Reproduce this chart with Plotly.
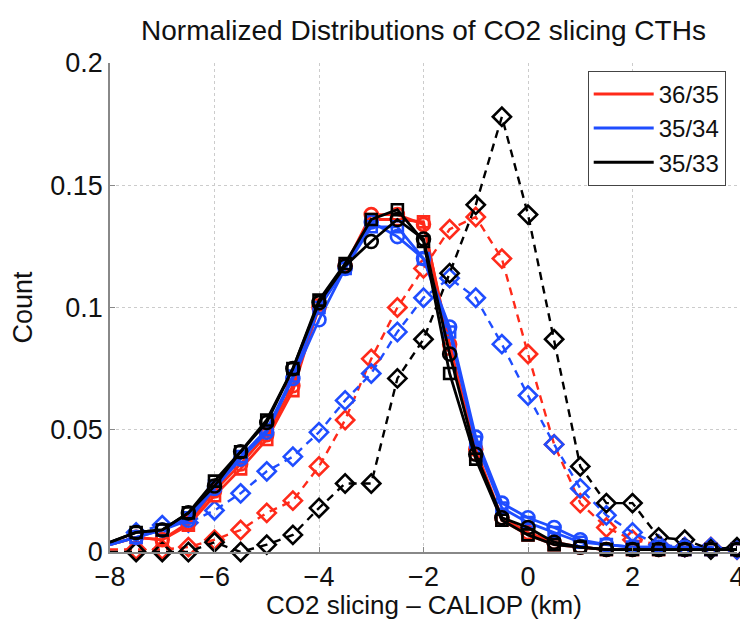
import plotly.graph_objects as go

x_km = [-8, -7.5, -7, -6.5, -6, -5.5, -5, -4.5, -4, -3.5, -3, -2.5, -2,
        -1.5, -1, -0.5, 0, 0.5, 1, 1.5, 2, 2.5, 3, 3.5, 4]

# solid (circle) series
red_circ = [0.003, 0.006, 0.005, 0.012, 0.025, 0.036, 0.048, 0.068, 0.100, 0.117, 0.138, 0.138, 0.134,
            0.085, 0.042, 0.014, 0.008, 0.004, 0.002, 0.001, 0.001, 0.001, 0.001, 0.001, 0.001]
blue_circ = [0.003, 0.006, 0.009, 0.013, 0.026, 0.038, 0.049, 0.071, 0.095, 0.116, 0.135, 0.129, 0.120,
             0.092, 0.047, 0.020, 0.014, 0.010, 0.005, 0.003, 0.002, 0.002, 0.002, 0.001, 0.001]
black_circ = [0.004, 0.008, 0.009, 0.016, 0.027, 0.041, 0.053, 0.075, 0.102, 0.117, 0.127, 0.136, 0.128,
              0.081, 0.040, 0.014, 0.010, 0.004, 0.002, 0.001, 0.001, 0.001, 0.001, 0.001, 0.001]
# solid (square) series
red_sq = [0.003, 0.006, 0.005, 0.011, 0.023, 0.034, 0.046, 0.066, 0.101, 0.117, 0.136, 0.136, 0.135,
          0.083, 0.040, 0.013, 0.007, 0.003, 0.002, 0.001, 0.001, 0.001, 0.001, 0.001, 0.001]
blue_sq = [0.003, 0.006, 0.009, 0.014, 0.027, 0.039, 0.050, 0.072, 0.100, 0.116, 0.133, 0.133, 0.120,
           0.090, 0.045, 0.018, 0.012, 0.008, 0.004, 0.003, 0.002, 0.002, 0.001, 0.001, 0.001]
black_sq = [0.004, 0.008, 0.009, 0.016, 0.029, 0.041, 0.054, 0.075, 0.103, 0.118, 0.136, 0.140, 0.127,
            0.073, 0.038, 0.013, 0.007, 0.003, 0.002, 0.001, 0.001, 0.001, 0.001, 0.001, 0.001]
# dashed (diamond) series
red_dia = [0.001, 0.001, 0.001, 0.002, 0.005, 0.009, 0.016, 0.021, 0.035, 0.054, 0.079, 0.100, 0.116,
           0.132, 0.137, 0.120, 0.081, 0.044, 0.020, 0.010, 0.005, 0.003, 0.002, 0.002, 0.001]
blue_dia = [0.004, 0.008, 0.011, 0.012, 0.017, 0.024, 0.033, 0.039, 0.049, 0.062, 0.073, 0.090, 0.104,
            0.112, 0.104, 0.085, 0.064, 0.044, 0.026, 0.015, 0.008, 0.003, 0.002, 0.002, 0.001]
black_dia = [0.000, 0.000, 0.000, 0.000, 0.004, 0.000, 0.003, 0.007, 0.018, 0.028, 0.028, 0.071, 0.087,
             0.114, 0.142, 0.178, 0.138, 0.087, 0.035, 0.020, 0.020, 0.006, 0.005, 0.001, 0.002]

legend_labels = ["36/35", "35/34", "35/33"]
colors = ["#ff2a1a", "#1f4dff", "#000000"]

fig = go.Figure()

dashed = [red_dia, blue_dia, black_dia]
circles = [red_circ, blue_circ, black_circ]
squares = [red_sq, blue_sq, black_sq]


def sizes(base):
    # no visible marker at the left axis edge (as in the reference)
    return [0 if xv <= -8 else base for xv in x_km]


for ys, c in zip(dashed, colors):
    fig.add_trace(go.Scatter(
        x=x_km, y=ys, mode="lines+markers", showlegend=False,
        line=dict(color=c, width=2.4, dash="8px,6px"),
        marker=dict(symbol="diamond-open", size=sizes(14), color=c, opacity=1,
                    line=dict(width=2.6, color=c)),
        cliponaxis=False))

for sq, ci, c in zip(squares, circles, colors):
    fig.add_trace(go.Scatter(
        x=x_km, y=sq, mode="lines+markers", showlegend=False,
        line=dict(color=c, width=2.8),
        marker=dict(symbol="square-open", size=sizes(11), color=c, opacity=1,
                    line=dict(width=2.6, color=c)),
        cliponaxis=False))
    fig.add_trace(go.Scatter(
        x=x_km, y=ci, mode="lines+markers", showlegend=False,
        line=dict(color=c, width=2.8),
        marker=dict(symbol="circle-open", size=sizes(13), color=c, opacity=1,
                    line=dict(width=2.6, color=c)),
        cliponaxis=False))

for lab, c in zip(legend_labels, colors):
    fig.add_trace(go.Scatter(x=[None], y=[None], mode="lines", name=lab,
                             line=dict(color=c, width=3)))

font = "Liberation Sans, Arial, Helvetica, sans-serif"
# page body has an 8px default margin, so the figure is sized/offset to compensate
W, H = 740, 611
ML, MR, MT, MB = 102, 11, 55, 67
PW, PH = W - ML - MR, H - MT - MB

fig.update_layout(
    width=W, height=H,
    margin=dict(l=ML, r=MR, t=MT, b=MB),
    paper_bgcolor="white", plot_bgcolor="white",
    font=dict(family=font, size=27, color="#111"),
    title=dict(text="Normalized Distributions of CO2 slicing CTHs", xref="paper", x=0.5,
               xanchor="center", y=1 - 22 / H, yanchor="middle",
               font=dict(size=28, family=font, color="#111")),
    legend=dict(x=0.982, xanchor="right", y=0.984, yanchor="top", bgcolor="white",
                bordercolor="#444", borderwidth=1, font=dict(size=24, family=font),
                tracegroupgap=0, itemwidth=60),
    showlegend=True,
    annotations=[
        dict(text="CO2 slicing \u2013 CALIOP (km)", xref="paper", yref="paper",
             x=0.5, y=-(605 - 8 - (MT + PH)) / PH, xanchor="center", yanchor="middle",
             showarrow=False, font=dict(size=26, family=font, color="#111")),
        dict(text="Count", xref="paper", yref="paper", textangle=-90,
             x=-(110 - 22) / PW, y=0.5, xanchor="center", yanchor="middle",
             showarrow=False, font=dict(size=27, family=font, color="#111")),
    ],
)
fig.update_xaxes(range=[-8, 4], tickvals=[-8, -6, -4, -2, 0, 2, 4],
                 ticktext=["\u22128", "\u22126", "\u22124", "\u22122", "0", "2", "4"],
                 showgrid=True, gridcolor="#cccccc", griddash="dot", gridwidth=1,
                 showline=True, linecolor="#888", linewidth=1.5, ticks="inside", ticklen=5,
                 tickcolor="#888", zeroline=False, automargin=False,
                 tickfont=dict(size=27))
fig.update_yaxes(range=[0, 0.2], tickvals=[0, 0.05, 0.1, 0.15, 0.2],
                 ticktext=["0", "0.05", "0.1", "0.15", "0.2"],
                 showgrid=True, gridcolor="#cccccc", griddash="dot", gridwidth=1,
                 showline=True, linecolor="#888", linewidth=1.5, ticks="inside", ticklen=5,
                 tickcolor="#888", zeroline=False, automargin=False,
                 tickfont=dict(size=27))

fig.write_html("out.html")
